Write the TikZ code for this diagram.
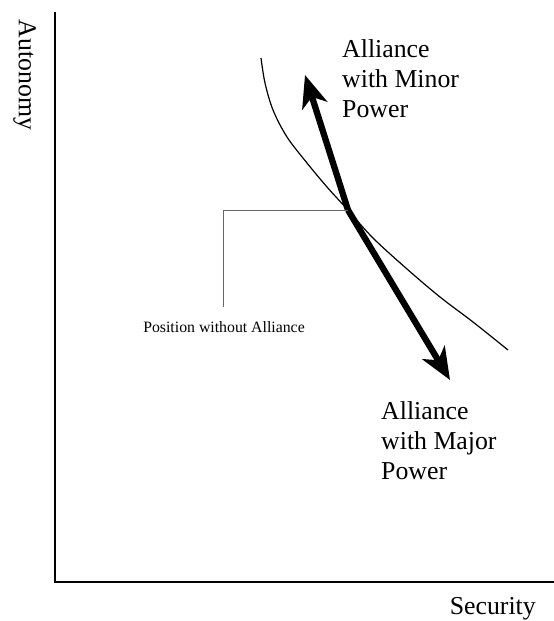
\documentclass[tikz,border=0pt]{standalone}
\usepackage{fontspec}
\setmainfont{Liberation Serif}
\usetikzlibrary{arrows.meta}
\begin{document}
\begin{tikzpicture}[x=1pt,y=-1pt,
  axis/.style={line width=1.3pt},
  curveline/.style={line width=1.2pt},
  bigarrow/.style={line width=6.3pt,-{Stealth[length=32pt,width=26pt,inset=9pt]}},
  leader/.style={draw=gray!80!black,line width=1pt},
  biglabel/.style={font=\fontsize{25.8}{30}\selectfont,align=left,inner sep=0pt},
  smalllabel/.style={font=\fontsize{15.8}{18}\selectfont,inner sep=0pt}]
  \useasboundingbox (0,0) rectangle (554,621);
  % axes
  \coordinate (top) at (55,12);
  \coordinate (origin) at (55,582);
  \coordinate (right) at (554,582);
  \draw[axis] (top) -- (origin) -- (right);
  \node[biglabel,rotate=-90,anchor=base] (ylab) at (19,75) {Autonomy};
  \node[biglabel,anchor=base east] (xlab) at (536,614) {Security};
  % indifference curve
  \draw[curveline] plot[smooth,tension=0.55] coordinates
    {(261,58) (265,83) (273,110) (287,137) (307,163) (327,187) (347,209)
     (373,238) (407,269) (440,297) (473,322) (508,350)};
  % the two alliance moves
  \coordinate (pivot) at (348,210);
  \coordinate (minortip) at (305,75);
  \coordinate (majortip) at (450,380);
  \draw[bigarrow] (pivot) -- (minortip);
  \draw[bigarrow] (pivot) -- (majortip);
  \node[biglabel,anchor=base west] (minor) at (342,117) {Alliance\\with Minor\\Power};
  \node[biglabel,anchor=base west] (major) at (381,479) {Alliance\\with Major\\Power};
  % leader to the starting position
  \coordinate (corner) at (223,210);
  \coordinate (leaderend) at (223,307);
  \draw[leader] (pivot) -- (corner) -- (leaderend);
  \node[smalllabel,anchor=base] (pos) at (224,332) {Position without Alliance};
\end{tikzpicture}
\end{document}
